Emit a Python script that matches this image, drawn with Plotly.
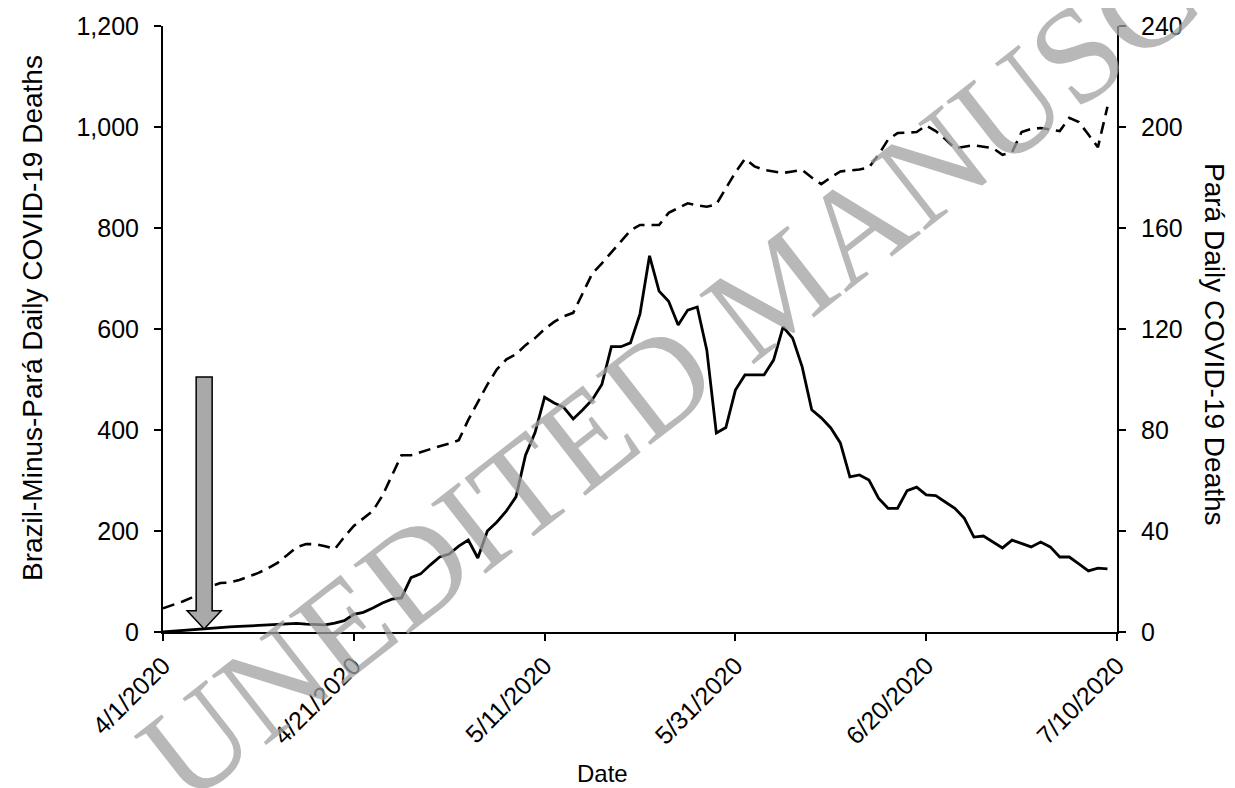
import plotly.graph_objects as go
import pandas as pd

# ---- data ----
start_date = "2020-04-01"
brazil_minus_para = [
    47, 53, 60, 68, 78, 90, 97, 98, 103, 110,
    117, 126, 137, 152, 168, 174, 174, 170, 164, 188,
    210, 225, 240, 270, 310, 350, 350, 356, 363, 368,
    373, 380, 420, 455, 490, 520, 540, 550, 568, 582,
    600, 614, 625, 632, 670, 710, 730, 752, 775, 795,
    806, 806, 806, 830, 840, 849, 845, 842, 847, 878,
    910, 937, 922, 915, 912, 909, 912, 915, 900, 887,
    900, 912, 914, 916, 920, 945, 975, 988, 989, 990,
    1003, 992, 976, 958, 961, 964, 961, 958, 945, 950,
    990, 996, 998, 995, 992, 1018, 1010, 985, 960, 1040,
]
para = [
    0, 0.3, 0.7, 1, 1.3, 1.6, 1.8, 2, 2.2, 2.4,
    2.5, 2.6, 2.8, 3.0, 3.4, 3.1, 3.0, 2.8, 3.5, 4.5,
    7, 7.8, 9.5, 11.5, 13, 13.5, 21.5, 23, 26.5, 29.7,
    30.9, 34, 36.4, 29.3, 40, 43.6, 48, 53.5, 70, 79,
    93, 90.7, 89, 84.4, 88, 92, 98, 113, 113, 114.5,
    126, 149, 135, 131, 121.6, 127.5, 128.7, 111.7, 78.8, 81,
    95.8, 101.8, 101.8, 101.8, 107.7, 120.8, 116.4, 105, 88, 84.8,
    80.8, 74.9, 61.4, 62.2, 60.2, 53, 49, 49, 56, 57.4,
    54.3, 54, 51.5, 49, 45, 37.6, 38, 35.6, 33.3, 36.4,
    35, 33.7, 35.6, 33.7, 29.7, 29.7, 27, 24.2, 25.3, 25,
]
dates = pd.date_range(start_date, periods=len(para))

x_tick_vals = ["2020-04-01", "2020-04-21", "2020-05-11", "2020-05-31", "2020-06-20", "2020-07-10"]
x_tick_text = ["4/1/2020", "4/21/2020", "5/11/2020", "5/31/2020", "6/20/2020", "7/10/2020"]
left_ticks = [0, 200, 400, 600, 800, 1000, 1200]
right_ticks = [0, 40, 80, 120, 160, 200, 240]
arrow_date = "2020-04-05"
arrow_top = 505

FONT = "Liberation Sans, Arial, sans-serif"

fig = go.Figure()
fig.add_trace(go.Scatter(
    x=dates, y=brazil_minus_para, mode="lines", name="Brazil-Minus-Pará",
    line=dict(color="black", width=2.6, dash="12px,7px"), yaxis="y",
))
fig.add_trace(go.Scatter(
    x=dates, y=para, mode="lines", name="Pará",
    line=dict(color="black", width=2.8), yaxis="y2",
))

axis_common = dict(
    showgrid=False, zeroline=False, showline=True, linecolor="black", linewidth=2,
    ticks="outside", ticklen=7, tickwidth=2, tickcolor="black", automargin=False,
    tickfont=dict(family=FONT, size=25, color="black"),
)

# page body has an 8px default margin: figure offset so it fills the window
fig.update_layout(
    width=1227, height=780,
    margin=dict(l=155, r=118, t=18, b=156, autoexpand=False),
    paper_bgcolor="white", plot_bgcolor="white",
    showlegend=False,
    font=dict(family=FONT, size=25, color="black"),
    xaxis=dict(
        type="date", range=[x_tick_vals[0], x_tick_vals[-1]],
        tickmode="array", tickvals=x_tick_vals, ticktext=x_tick_text,
        tickangle=-45, **axis_common,
    ),
    yaxis=dict(
        range=[0, 1200], tickmode="array", tickvals=left_ticks,
        tickformat=",", ticklabelstandoff=10, **axis_common,
    ),
    yaxis2=dict(
        range=[0, 240], tickmode="array", tickvals=right_ticks,
        overlaying="y", side="right", ticklabelstandoff=10, **axis_common,
    ),
)

# block arrow marking an event (pixel width, data height)
fig.add_shape(
    type="path", xref="x", yref="y", xsizemode="pixel", xanchor=arrow_date,
    path=(f"M -5,{arrow_top} L 11,{arrow_top} L 11,42 L 20,42 L 3,6 "
          f"L -14,42 L -5,42 Z"),
    fillcolor="#a9a9a9", line=dict(color="black", width=1.5), layer="above",
)

# axis titles
fig.add_annotation(text="Brazil-Minus-Pará Daily COVID-19 Deaths", xref="paper", yref="paper",
                   x=0, y=0.5, xanchor="center", yanchor="middle", xshift=-131, yshift=11,
                   textangle=-90, showarrow=False,
                   font=dict(family=FONT, size=28, color="black"))
fig.add_annotation(text="Pará Daily COVID-19 Deaths", xref="paper", yref="paper",
                   x=1, y=0.5, xanchor="center", yanchor="middle", xshift=98, yshift=-15,
                   textangle=90, showarrow=False,
                   font=dict(family=FONT, size=28, color="black"))
fig.add_annotation(text="Date", xref="paper", yref="paper",
                   x=0.5, y=0, xanchor="center", yanchor="middle", xshift=-38, yshift=-141,
                   showarrow=False, font=dict(family=FONT, size=24, color="black"))

# watermark
fig.add_annotation(text="UNEDITED MANUSCRIPT", xref="paper", yref="paper",
                   x=0.65, y=0.575, xanchor="center", yanchor="middle", textangle=-38,
                   showarrow=False,
                   font=dict(family="Liberation Serif, Times New Roman, serif", size=135,
                             color="rgba(160,160,160,0.75)"))

fig.write_html("out.html")
